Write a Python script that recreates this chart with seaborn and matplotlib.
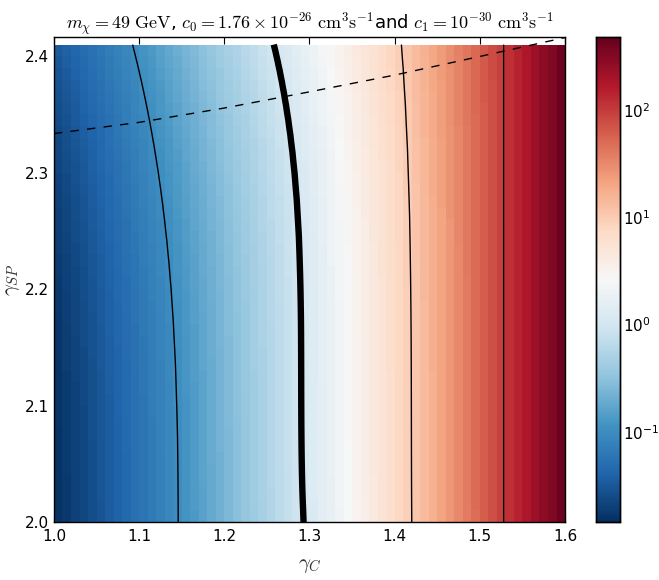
import numpy as np
import pandas as pd
import matplotlib
matplotlib.use("Agg")
import matplotlib.pyplot as plt
import seaborn as sns
from matplotlib.colors import LogNorm
from matplotlib.ticker import MultipleLocator, FuncFormatter, NullLocator

# ---------------- data ----------------
gamma_c_range = [1.0, 1.6]      # x extent of the grid
gamma_sp_range = [2.0, 2.41]    # y extent of the grid
grid_step = 0.01

# rows of gamma_SP at which the iso-value positions were read
knot_sp = [2.0, 2.06, 2.12, 2.17, 2.23, 2.29, 2.345, 2.41]
# gamma_C position of log10(value) = -1, 0, 1, 2 on those rows
x_at_m1 = [1.146, 1.1453, 1.1433, 1.1402, 1.1343, 1.1245, 1.1119, 1.0924]
x_at_0 = [1.2927, 1.2916, 1.2905, 1.2895, 1.2872, 1.285, 1.275, 1.258]
x_at_1 = [1.420, 1.4199, 1.4195, 1.4192, 1.4185, 1.4165, 1.4135, 1.408]
x_at_2 = [1.528, 1.528, 1.528, 1.528, 1.528, 1.528, 1.528, 1.528]
# log10(value) at the left (gamma_C = 1.0) and right (gamma_C = 1.6) edges
log_left = [-1.843, -1.839, -1.826, -1.806, -1.769, -1.707, -1.627, -1.504]
log_right = [2.685, 2.685, 2.685, 2.685, 2.685, 2.685, 2.685, 2.685]
log_vmin, log_vmax = -1.843, 2.685

contour_levels = [0.1, 1.0, 10.0, 100.0]
contour_widths = [1.0, 4.6, 1.0, 1.0]

# dashed boundary curve
dash_gc = [1.0, 1.1, 1.2, 1.3, 1.4, 1.5, 1.6]
dash_gsp = [2.3336, 2.3432, 2.3555, 2.3694, 2.3838, 2.3998, 2.416]

title = (r"$m_\chi = 49\ \mathrm{GeV}$, $c_0 = 1.76\times10^{-26}\ \mathrm{cm^3s^{-1}}$"
         r"and $c_1 = 10^{-30}\ \mathrm{cm^3s^{-1}}$")

# smooth curves through the read knots (cubic in gamma_SP)
_fits = [np.polyfit(knot_sp, arr, 3)
         for arr in (x_at_m1, x_at_0, x_at_1, x_at_2, log_left, log_right)]


def field(gc, gsp):
    """log10 value at (gamma_C, gamma_SP) from the read iso-positions."""
    xm1, x0, x1, x2, lft, rgt = [np.polyval(c, gsp) for c in _fits]
    xs = [gamma_c_range[0], xm1, x0, x1, x2, gamma_c_range[1]]
    vs = [lft, -1.0, 0.0, 1.0, 2.0, rgt]
    return np.interp(gc, xs, vs)


nx = int(round((gamma_c_range[1] - gamma_c_range[0]) / grid_step))
ny = int(round((gamma_sp_range[1] - gamma_sp_range[0]) / grid_step))
xc = gamma_c_range[0] + (np.arange(nx) + 0.5) * grid_step
yc = gamma_sp_range[0] + (np.arange(ny) + 0.5) * grid_step
cells = np.array([[10 ** field(x, y) for x in xc] for y in yc])
df = pd.DataFrame(cells, index=np.round(yc, 3), columns=np.round(xc, 3))

xn = np.linspace(gamma_c_range[0], gamma_c_range[1], 4 * nx + 1)
yn = np.linspace(gamma_sp_range[0], gamma_sp_range[1], 4 * ny + 1)
nodes = np.array([[10 ** field(x, y) for x in xn] for y in yn])

# ---------------- style ----------------
sns.set_style("ticks", {"axes.edgecolor": "black", "xtick.color": "black",
                        "ytick.color": "black", "text.color": "black",
                        "axes.labelcolor": "black"})
plt.rcParams["font.family"] = ["DejaVu Sans"]
plt.rcParams["mathtext.fontset"] = "cm"
plt.rcParams["axes.unicode_minus"] = False
plt.rcParams["xtick.direction"] = "in"
plt.rcParams["ytick.direction"] = "in"

fig = plt.figure(figsize=(6.59, 5.80), dpi=100)
ax = fig.add_axes([0.0819, 0.100, 0.7755, 0.8362])
cax = fig.add_axes([0.9044, 0.100, 0.0364, 0.8362])

sns.heatmap(df, ax=ax, cbar_ax=cax, cmap="RdBu_r",
            norm=LogNorm(vmin=10 ** log_vmin, vmax=10 ** log_vmax),
            xticklabels=False, yticklabels=False)

# index-space coordinates of the heatmap
to_ix = lambda v: (np.asarray(v) - gamma_c_range[0]) / grid_step
to_iy = lambda v: (np.asarray(v) - gamma_sp_range[0]) / grid_step

X, Y = np.meshgrid(to_ix(xn), to_iy(yn))
ax.contour(X, Y, nodes, levels=contour_levels, colors="k",
           linewidths=contour_widths)
ax.plot(to_ix(dash_gc), to_iy(dash_gsp), color="k", lw=1.0, dashes=(6, 6))

ax.set_xlim(0, nx)
ax.set_ylim(0, to_iy(2.4165))
for sp in ax.spines.values():
    sp.set_visible(True)
    sp.set_linewidth(1.0)

ax.xaxis.set_major_locator(MultipleLocator(0.1 / grid_step))
ax.yaxis.set_major_locator(MultipleLocator(0.1 / grid_step))
ax.xaxis.set_major_formatter(FuncFormatter(
    lambda v, p: f"{gamma_c_range[0] + v * grid_step:.1f}"))
ax.yaxis.set_major_formatter(FuncFormatter(
    lambda v, p: f"{gamma_sp_range[0] + v * grid_step:.1f}"))
ax.tick_params(axis="both", which="major", direction="in", length=5,
               width=0.8, labelsize=11, top=True, right=True,
               labelrotation=0)
ax.tick_params(axis="x", pad=5)

ax.set_xlabel(r"$\gamma_C$", fontsize=15, labelpad=8, color="#333333")
ax.set_ylabel(r"$\gamma_{SP}$", fontsize=15, labelpad=2, color="#333333")
ax.set_title(title, fontsize=13, pad=6)

cax.yaxis.set_minor_locator(NullLocator())
cax.tick_params(axis="y", which="major", direction="in", length=5,
                width=0.8, labelsize=11, right=True, left=False, pad=2)
for sp in cax.spines.values():
    sp.set_visible(True)
    sp.set_linewidth(1.0)

fig.savefig("out.png", dpi=100)
